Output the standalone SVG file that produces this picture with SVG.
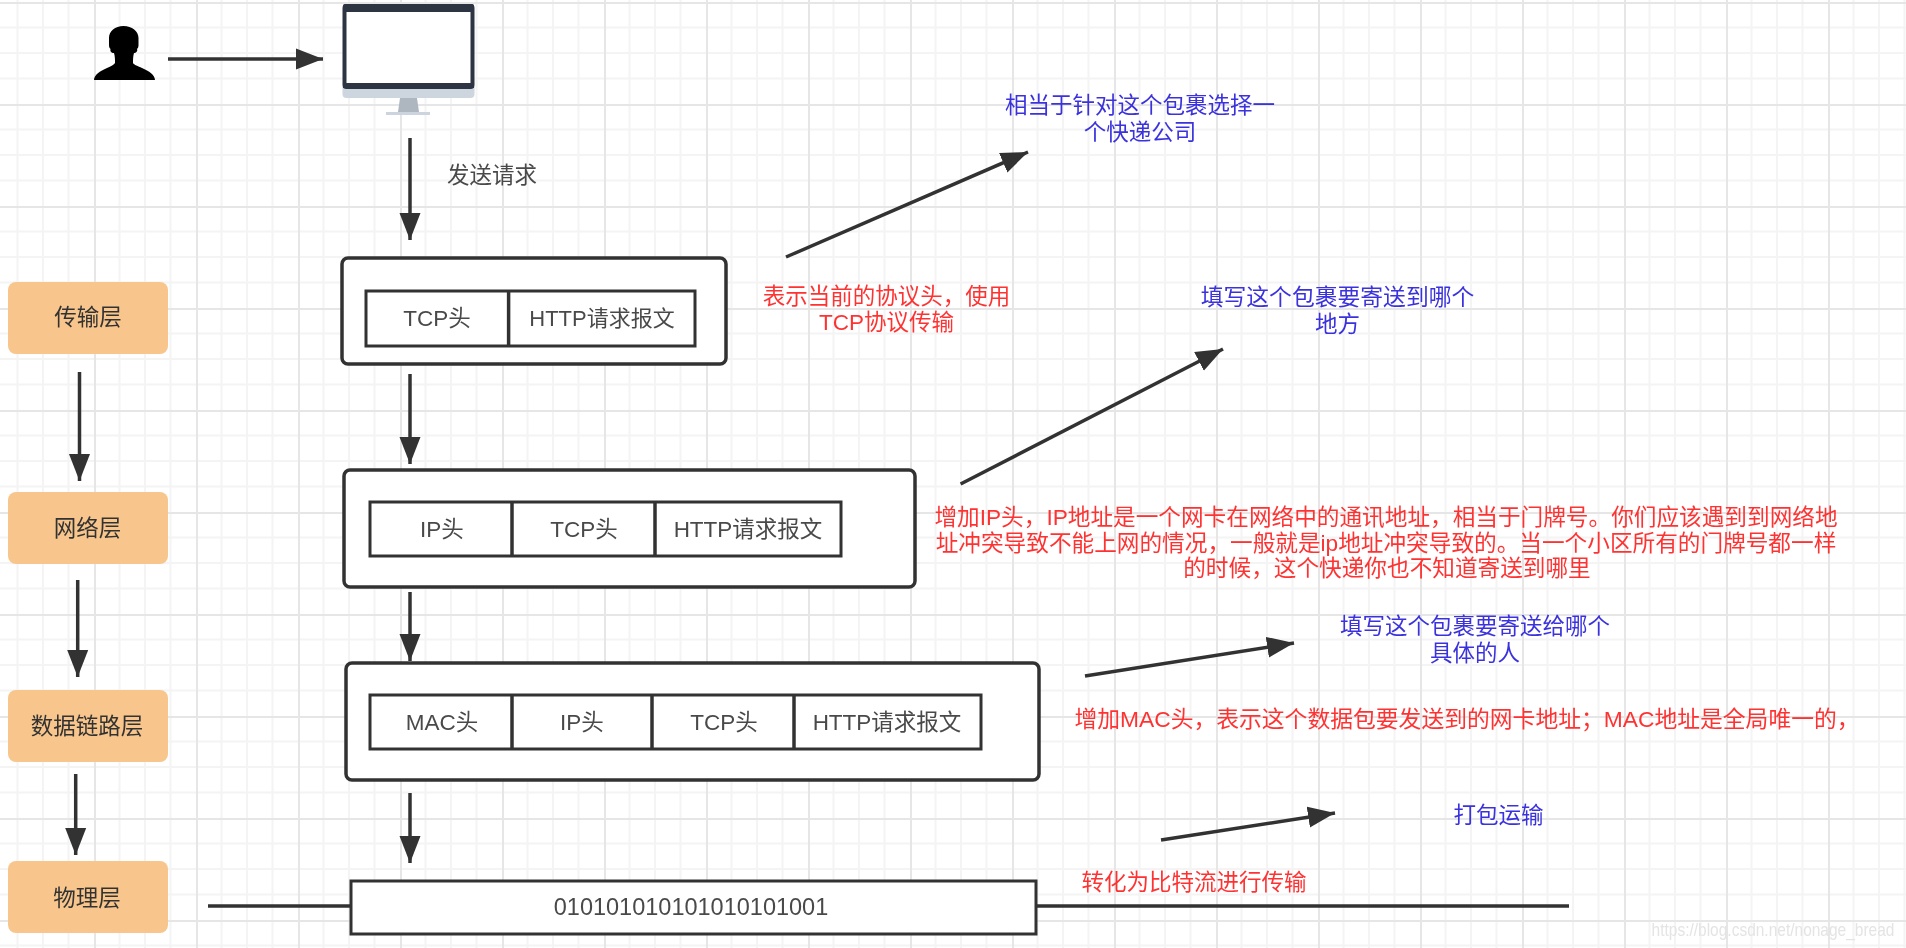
<svg xmlns="http://www.w3.org/2000/svg" width="1906" height="948" viewBox="0 0 1906 948">
<style>
text{font-family:"Liberation Sans","Noto Sans CJK SC",sans-serif;font-size:22.5px;text-anchor:middle;dominant-baseline:central}
.k{fill:#4a4a4a}.d{fill:#333}.b{fill:#3a33dd}.r{fill:#ff3333}
.box{fill:#fff;stroke:#333;stroke-width:3.5}
.cell{fill:#fff;stroke:#333;stroke-width:3}
.layer{fill:#f8c68c}
.c{stroke:#333;stroke-width:3.5;fill:none}
.a{marker-end:url(#ah)}
</style>
<defs>
<filter id="soft" x="0" y="0" width="100%" height="100%" filterUnits="objectBoundingBox"><feGaussianBlur stdDeviation="0.6"/></filter>
<marker id="ah" markerUnits="userSpaceOnUse" markerWidth="28" markerHeight="22" viewBox="0 0 28 22" refX="27" refY="11" orient="auto"><path d="M0 0.500L27 11L0 21.500Z" fill="#333"/></marker>
<pattern id="grid" patternUnits="userSpaceOnUse" x="-8" y="2" width="102" height="102">
<path d="M25.5 0V102M51 0V102M76.5 0V102M0 25.5H102M0 51H102M0 76.5H102" stroke="#f4f4f4" stroke-width="2" fill="none"/>
<path d="M1 0V102M0 1H102" stroke="#e6e6e6" stroke-width="2" fill="none"/>
</pattern>
</defs>
<g filter="url(#soft)">
<rect width="1906" height="948" fill="#fff"/>
<rect width="1906" height="948" fill="url(#grid)"/>
<g id="connectors">
<path class="c a" d="M168 59H323"/>
<path class="c a" d="M410 138V240"/>
<path class="c a" d="M410 374V464"/>
<path class="c a" d="M410 592V661"/>
<path class="c a" d="M410 793V863"/>
<path class="c a" d="M79.500 372V481"/>
<path class="c a" d="M77.700 580V677"/>
<path class="c a" d="M75.700 774V855"/>
<path class="c a" d="M786 257L1028 152"/>
<path class="c a" d="M960.600 484L1223 349"/>
<path class="c a" d="M1085 676L1294 643"/>
<path class="c a" d="M1161 840L1335 813"/>
<path class="c" d="M208 906H351M1036 906H1569"/>
</g>
<g id="user"><path fill="#000" d="M123.500 26C132 26 138.500 31 138.500 38V45C138.500 47 138 48 137 49C138 51 136 53 134 53C133 56 133 60 133 63C134 65 138 66 142 68C149 71 155 75 155 80H94C94 75 100 71 107 68C111 66 114 65 115 63C115 60 115 56 114 53C111 53 110 51 110.500 49C109.500 48 109 47 109 45V38C109 31 115 26 123.500 26Z"/></g>
<g id="monitor">
<path fill="#cdd5df" d="M342.500 87H474.500V94Q474.500 98 470.500 98H346.500Q342.500 98 342.500 94Z"/>
<path fill="#aeb6bf" d="M400 98H417L419 112H398Z"/>
<rect x="386" y="112" width="44" height="3" fill="#ccd4de"/>
<rect x="344.500" y="6" width="128" height="81" rx="2" fill="#fff" stroke="#2f3542" stroke-width="4"/>
<rect x="343" y="4" width="131" height="8" rx="2" fill="#2f3542"/>
<rect x="343" y="83" width="131" height="5" fill="#2f3542"/>
</g>
<g id="label-send"><text class="k" x="492" y="175">发送请求</text></g>
<g id="layer-transport"><rect class="layer" x="8" y="282" width="160" height="72" rx="8"/><text class="d" x="88" y="317">传输层</text></g>
<g id="layer-network"><rect class="layer" x="8" y="492" width="160" height="72" rx="8"/><text class="d" x="87.500" y="528">网络层</text></g>
<g id="layer-link"><rect class="layer" x="8" y="690" width="160" height="72" rx="8"/><text class="d" x="87" y="726">数据链路层</text></g>
<g id="layer-physical"><rect class="layer" x="8" y="861" width="160" height="72" rx="8"/><text class="d" x="87" y="898">物理层</text></g>
<g id="tcp-packet">
<rect class="box" x="342" y="258" width="384" height="106" rx="6"/>
<rect class="cell" x="366" y="291" width="329" height="55"/>
<path class="c" d="M508.600 291V346"/>
<text class="k" x="437" y="318">TCP头</text><text class="k" x="602" y="318" style="font-size:22px">HTTP请求报文</text>
</g>
<g id="ip-packet">
<rect class="box" x="344" y="470" width="571" height="117" rx="6"/>
<rect class="cell" x="370" y="502" width="471" height="54"/>
<path class="c" d="M512 502V556M655 502V556"/>
<text class="k" x="442" y="529">IP头</text><text class="k" x="584" y="529">TCP头</text><text class="k" x="748" y="529">HTTP请求报文</text>
</g>
<g id="mac-packet">
<rect class="box" x="346" y="663" width="693" height="117" rx="6"/>
<rect class="cell" x="370" y="695" width="611" height="54"/>
<path class="c" d="M512 695V749M652 695V749M794 695V749"/>
<text class="k" x="442" y="722">MAC头</text><text class="k" x="582" y="722">IP头</text><text class="k" x="724" y="722">TCP头</text><text class="k" x="887" y="722">HTTP请求报文</text>
</g>
<g id="bits"><rect class="cell" x="351" y="881" width="685" height="53"/><text class="k" x="691" y="907" style="font-size:23.5px">010101010101010101001</text></g>
<g id="notes-blue">
<text class="b" x="1140" y="105">相当于针对这个包裹选择一</text><text class="b" x="1140" y="132">个快递公司</text>
<text class="b" x="1337.500" y="297" style="font-size:22.8px">填写这个包裹要寄送到哪个</text><text class="b" x="1337.500" y="324">地方</text>
<text class="b" x="1475" y="626">填写这个包裹要寄送给哪个</text><text class="b" x="1475" y="653">具体的人</text>
<text class="b" x="1498.500" y="815">打包运输</text>
</g>
<g id="notes-red">
<text class="r" x="886.500" y="296">表示当前的协议头，使用</text><text class="r" x="886.500" y="322">TCP协议传输</text>
<text class="r" x="1386" y="517" style="font-size:22.65px">增加IP头，IP地址是一个网卡在网络中的通讯地址，相当于门牌号。你们应该遇到到网络地</text>
<text class="r" x="1386" y="543" style="font-size:22.65px">址冲突导致不能上网的情况，一般就是ip地址冲突导致的。当一个小区所有的门牌号都一样</text>
<text class="r" x="1387" y="568" style="font-size:22.65px">的时候，这个快递你也不知道寄送到哪里</text>
<text class="r" x="1467" y="719" style="font-size:22.8px">增加MAC头，表示这个数据包要发送到的网卡地址；MAC地址是全局唯一的，</text>
<text class="r" x="1194" y="882">转化为比特流进行传输</text>
</g>
<g id="watermark"><text transform="translate(1773 930) scale(1 1.2)" style="font-size:15.5px;fill:#e4e4e4">https://blog.csdn.net/nonage_bread</text></g>
</g>
</svg>
